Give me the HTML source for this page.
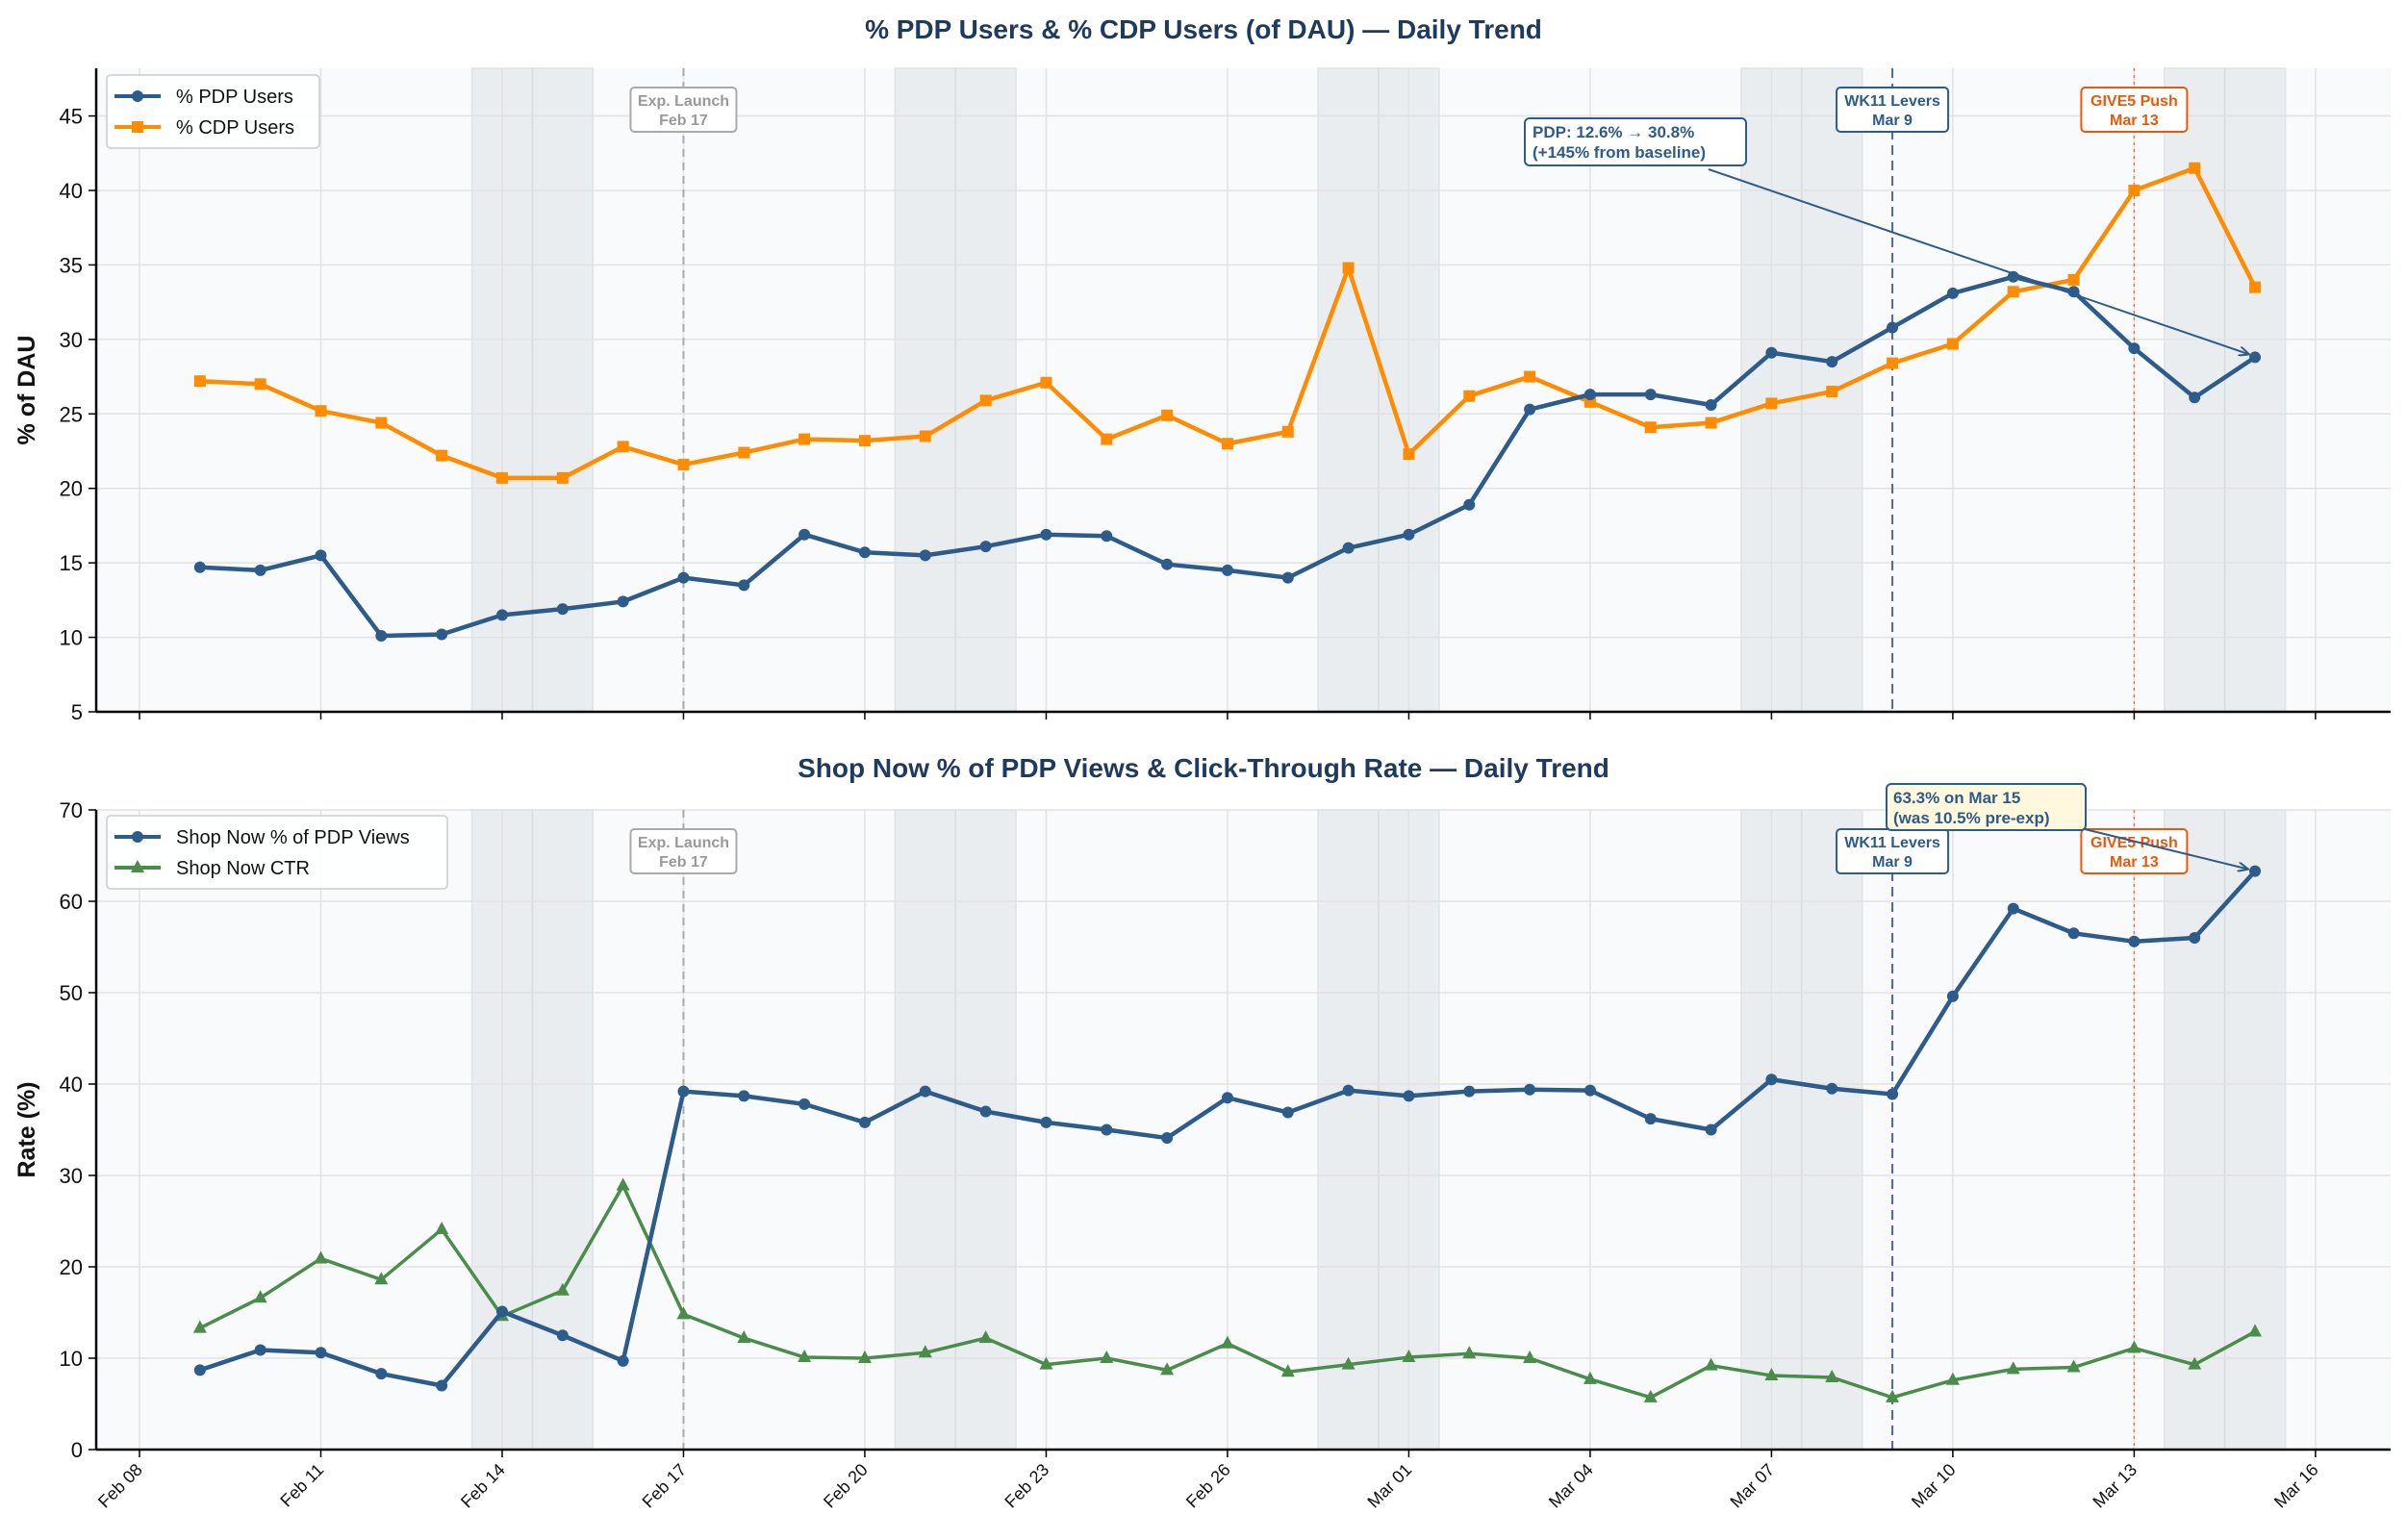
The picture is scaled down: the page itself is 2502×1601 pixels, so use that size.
<!DOCTYPE html>
<html><head><meta charset="utf-8"><style>
body{margin:0;background:#fff}
svg{display:block;font-family:"Liberation Sans",Arial,sans-serif}
</style></head><body>
<svg id="c" width="2502" height="1601" xmlns="http://www.w3.org/2000/svg"></svg>
<script>
const dates = (()=>{const a=[];for(let i=0;i<35;i++){const d=new Date(Date.UTC(2026,1,9+i));a.push(d);}return a;})();
const pdpUsers = [14.7,14.5,15.5,10.1,10.2,11.5,11.9,12.4,14.0,13.5,16.9,15.7,15.5,16.1,16.9,16.8,14.9,14.5,14.0,16.0,16.9,18.9,25.3,26.3,26.3,25.6,29.1,28.5,30.8,33.1,34.2,33.2,29.4,26.1,28.8];
const cdpUsers = [27.2,27.0,25.2,24.4,22.2,20.7,20.7,22.8,21.6,22.4,23.3,23.2,23.5,25.9,27.1,23.3,24.9,23.0,23.8,34.8,22.3,26.2,27.5,25.8,24.1,24.4,25.7,26.5,28.4,29.7,33.2,34.0,40.0,41.5,33.5];
const shopNowPct = [8.7,10.9,10.6,8.3,7.0,15.1,12.5,9.7,39.2,38.7,37.8,35.8,39.2,37.0,35.8,35.0,34.1,38.5,36.9,39.3,38.7,39.2,39.4,39.3,36.2,35.0,40.5,39.5,38.9,49.6,59.2,56.5,55.6,56.0,63.3];
const shopNowCtr = [13.3,16.6,20.9,18.6,24.1,14.6,17.4,28.9,14.8,12.2,10.1,10.0,10.6,12.2,9.3,10.0,8.7,11.6,8.5,9.3,10.1,10.5,10.0,7.7,5.7,9.2,8.1,7.9,5.7,7.6,8.8,9.0,11.1,9.3,12.9];
const xTickLabels = ["Feb 08","Feb 11","Feb 14","Feb 17","Feb 20","Feb 23","Feb 26","Mar 01","Mar 04","Mar 07","Mar 10","Mar 13","Mar 16"];
const topYTicks = [5,10,15,20,25,30,35,40,45];
const botYTicks = [0,10,20,30,40,50,60,70];
const weekendDays = [5,6,12,13,19,20,26,27,33,34]; // day index from Feb 9
const eventDays = [8,28,32]; // Feb17, Mar9, Mar13

const svg=document.getElementById('c');
const NS='http://www.w3.org/2000/svg';
function el(tag,attrs,parent,text){const e=document.createElementNS(NS,tag);for(const k in attrs)e.setAttribute(k,attrs[k]);if(text!==undefined)e.textContent=text;(parent||svg).appendChild(e);return e;}
const L=100,R=2485,day0=145,pxDay=62.83; // day0 = Feb 08
const X=i=>day0+(i+1)*pxDay; // i index from Feb 9
const BLUE='#2d5b8a',ORANGE='#ff8c00',GREEN='#4a8c4a';

function panel(cfg){
  const {top,bot,ymin,ymax,yticks,title,titleY,ylabel,name}=cfg;
  const Y=v=>bot-(v-ymin)/(ymax-ymin)*(bot-top);
  const g=el('g',{});
  
  
  el('rect',{x:L,y:top,width:R-L,height:bot-top,fill:'#f8fafc'},g);
  weekendDays.forEach(d=>{const r=el('rect',{x:X(d)-pxDay/2,y:top,width:pxDay,height:bot-top,fill:'#e3e8ec',opacity:0.7,stroke:'#d5d9de','stroke-width':1.5},g);
    });
  yticks.forEach(t=>{const y=Y(t);el('line',{x1:L,x2:R,y1:y,y2:y,stroke:'#e2e2e2','stroke-width':1.5},g);
    el('line',{x1:L-8,x2:L,y1:y,y2:y,stroke:'#000','stroke-width':1.5},g);
    const tl=el('text',{x:L-14,y:y+8,'text-anchor':'end','font-size':22,fill:'#111'},g,String(t));
    });
  xTickLabels.forEach((s,k)=>{const x=day0+k*3*pxDay;el('line',{x1:x,x2:x,y1:top,y2:bot,stroke:'#e2e2e2','stroke-width':1.5},g);
    el('line',{x1:x,x2:x,y1:bot,y2:bot+8,stroke:'#000','stroke-width':1.5},g);
    if(cfg.xlabels){const tl=el('text',{x:x+4,y:bot+22,'text-anchor':'end','font-size':18,fill:'#111',transform:`rotate(-45 ${x+4} ${bot+22})`},g,s);
      }});
  const ev=[['#aaaaaa','8,6',2,'Exp. Launch','Feb 17','#999'],['#4a6a95','10,6',2,'WK11 Levers','Mar 9',BLUE],['#e07a50','3,4',1.5,'GIVE5 Push','Mar 13','#e8590c']];
  eventDays.forEach((d,k)=>{const x=X(d);const e=ev[k];
    const ln=el('line',{x1:x,x2:x,y1:top,y2:bot,stroke:e[0],'stroke-dasharray':e[1],'stroke-width':e[2]},g);
    
    const bw=k==1?116:(k==2?110:110);
    el('rect',{x:x-bw/2,y:top+20,width:bw,height:46,rx:4,fill:'#fff',stroke:k==0?'#aaa':e[5],'stroke-width':2},g);
    el('text',{x:x,y:top+39,'text-anchor':'middle','font-size':16,'font-weight':'bold',fill:e[5]},g,e[3]);
    el('text',{x:x,y:top+59,'text-anchor':'middle','font-size':16,'font-weight':'bold',fill:e[5]},g,e[4]);
  });
  el('line',{x1:L,x2:L,y1:top,y2:bot,stroke:'#000','stroke-width':2.5},g);
  el('line',{x1:L,x2:R,y1:bot,y2:bot,stroke:'#000','stroke-width':2.5},g);
  const tt=el('text',{x:1251,y:titleY,'text-anchor':'middle','font-size':28,'font-weight':'bold',fill:'#1f3a5f'},g,title);
  
  const yl=el('text',{x:0,y:0,'text-anchor':'middle','font-size':25,'font-weight':'bold',fill:'#111',transform:`translate(36 ${(top+bot)/2}) rotate(-90)`},g,ylabel);
  
  return {Y,g};
}
function series(g,Y,vals,color,marker,width,name){
  const p=el('polyline',{points:vals.map((v,i)=>X(i)+','+Y(v)).join(' '),fill:'none',stroke:color,'stroke-width':width,'stroke-linejoin':'round'},g);
  
  vals.forEach((v,i)=>{const x=X(i),y=Y(v);let m;
    if(marker=='o')m=el('circle',{cx:x,cy:y,r:6,fill:color},g);
    else if(marker=='s')m=el('rect',{x:x-6,y:y-6,width:12,height:12,fill:color},g);
    else m=el('polygon',{points:`${x},${y-8} ${x-7},${y+5} ${x+7},${y+5}`,fill:color},g);
    });
}
function legend(g,x,y,w,items){
  const lg=el('g',{},g);
  el('rect',{x:x,y:y,width:w,height:items.length*32+12,rx:4,fill:'#fff','fill-opacity':0.85,stroke:'#ccc','stroke-width':1.5},lg);
  items.forEach((it,k)=>{const yy=y+22+k*32;
    const ent=el('g',{},lg);
    el('line',{x1:x+8,x2:x+56,y1:yy,y2:yy,stroke:it[1],'stroke-width':4},ent);
    if(it[2]=='o')el('circle',{cx:x+32,cy:yy,r:6,fill:it[1]},ent);
    else if(it[2]=='s')el('rect',{x:x+26,y:yy-6,width:12,height:12,fill:it[1]},ent);
    else el('polygon',{points:`${x+32},${yy-8} ${x+25},${yy+5} ${x+39},${yy+5}`,fill:it[1]},ent);
    el('text',{x:x+72,y:yy+7,'font-size':20,fill:'#111'},ent,it[0]);});
}
const defs=el('defs',{});
const mk=el('marker',{id:'ar',markerWidth:12,markerHeight:10,refX:11,refY:5,orient:'auto',markerUnits:'userSpaceOnUse'},defs);
el('path',{d:'M0,0 L11,5 L0,10',fill:'none',stroke:BLUE,'stroke-width':2},mk);

const t=panel({top:71,bot:740,ymin:5,ymax:48.2,yticks:topYTicks,title:'% PDP Users & % CDP Users (of DAU) — Daily Trend',titleY:40,ylabel:'% of DAU',name:'top',xlabels:false});
series(t.g,t.Y,cdpUsers,ORANGE,'s',4.5,'cdp-users');
series(t.g,t.Y,pdpUsers,BLUE,'o',4.5,'pdp-users');
legend(t.g,111,78,221,[['% PDP Users',BLUE,'o'],['% CDP Users',ORANGE,'s']]);
el('line',{x1:1776,y1:176,x2:X(34)-6,y2:t.Y(28.8)-3,stroke:BLUE,'stroke-width':2,'marker-end':'url(#ar)'},t.g);
el('rect',{x:1585,y:123,width:230,height:49,rx:5,fill:'#fff',stroke:BLUE,'stroke-width':2},t.g);
el('text',{x:1593,y:143,'font-size':17,'font-weight':'bold',fill:BLUE},t.g,'PDP: 12.6% → 30.8%');
el('text',{x:1593,y:164,'font-size':17,'font-weight':'bold',fill:BLUE},t.g,'(+145% from baseline)');

const b=panel({top:842,bot:1507,ymin:0,ymax:70,yticks:botYTicks,title:'Shop Now % of PDP Views & Click-Through Rate — Daily Trend',titleY:808,ylabel:'Rate (%)',name:'bottom',xlabels:true});
series(b.g,b.Y,shopNowCtr,GREEN,'^',3.5,'shop-now-ctr');
series(b.g,b.Y,shopNowPct,BLUE,'o',4.5,'shop-now-pct');
legend(b.g,111,848,354,[['Shop Now % of PDP Views',BLUE,'o'],['Shop Now CTR',GREEN,'^']]);
el('line',{x1:2167,y1:862,x2:X(34)-7,y2:b.Y(63.3)-2,stroke:BLUE,'stroke-width':2,'marker-end':'url(#ar)'},b.g);
el('rect',{x:1961,y:815,width:207,height:48,rx:5,fill:'#fff8dc',stroke:BLUE,'stroke-width':2},b.g);
el('text',{x:1968,y:835,'font-size':17,'font-weight':'bold',fill:BLUE},b.g,'63.3% on Mar 15');
el('text',{x:1968,y:856,'font-size':17,'font-weight':'bold',fill:BLUE},b.g,'(was 10.5% pre-exp)');
</script>
</body></html>
